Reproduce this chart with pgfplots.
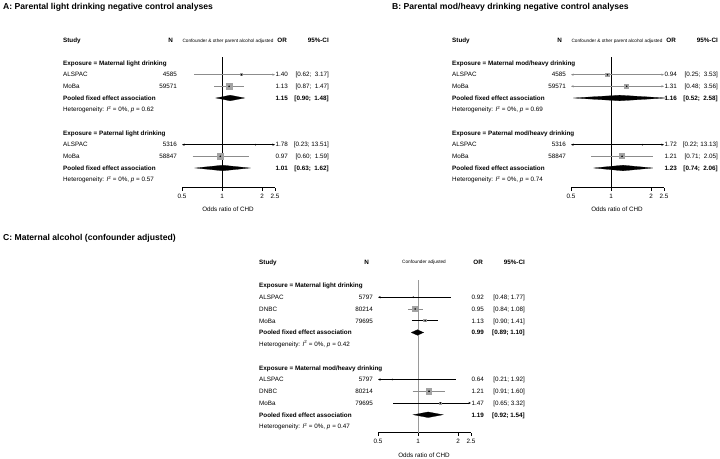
\documentclass[border=0pt]{standalone}
\usepackage{pgfplots}
\pgfplotsset{compat=1.18}
\usepackage{fontspec}
\setmainfont{Liberation Sans}
\usetikzlibrary{arrows.meta}
\definecolor{sqgray}{HTML}{A3A3A3}
\definecolor{cigray}{HTML}{8C8C8C}
\definecolor{refgray}{HTML}{9A9A9A}
\newcommand\fs{\fontsize{6.3bp}{7bp}\selectfont}
\newcommand\fst{\fontsize{4.7bp}{5bp}\selectfont}
\newcommand\ftit{\fontsize{8.6bp}{10bp}\selectfont\bfseries}
\newcommand\het[1]{Heterogeneity: \textit{I}\textsuperscript{2} = 0\%, \textit{p} = #1}
\tikzset{
  tx/.style={inner sep=0pt, font=\fs, text height=4.5bp, text depth=0pt},
  L/.style={tx, anchor=west},
  R/.style={tx, anchor=east},
  M/.style={tx, anchor=center},
  B/.style={font=\fs\bfseries},
  rarr/.style={-{Stealth[length=2.6bp,width=2.2bp]}},
  larr/.style={{Stealth[length=2.6bp,width=2.2bp]}-},
  barr/.style={{Stealth[length=2.6bp,width=2.2bp]}-{Stealth[length=2.6bp,width=2.2bp]}},
  cil/.style={line width=0.6bp, cigray},
  cib/.style={line width=0.6bp, black},
  cdia/.style={fill=black, draw=black, line width=0.2bp},
}
\pgfplotsset{
  fplot/.style={
    scale only axis, width=93bp,
    axis x line*=bottom, axis y line=none,
    xtick={0.5,1,2,2.5}, xticklabels={0.5,1,2,2.5}, minor xtick={},
    tick align=outside, major tick length=3bp,
    x axis line style={line width=0.5bp},
    xtick style={line width=0.5bp, black},
    xticklabel style={font=\fs, inner sep=0pt, text height=4.5bp, text depth=0pt, anchor=north, yshift=-3bp},
    clip=false,
  },
  csq/.style={only marks, mark=square*, mark options={fill=sqgray, draw=sqgray, line width=0pt}},
  cdot/.style={only marks, mark=*, mark size=0.55bp, black},
}
\begin{document}
\begin{tikzpicture}
\useasboundingbox (0,0) rectangle (720bp,-459bp);

% ---------------- Panel A ----------------
\begin{axis}[xmode=log, xmin=0.5, xmax=2.5, fplot, at={(182bp,-187.5bp)}, anchor=south west, height=130.2bp, ymin=-187.5, ymax=-57.3]
\addplot[black, line width=0.6bp] coordinates {(1,-57.3) (1,-187.5)};
\addplot[cil, rarr] coordinates {(0.62,-74.7) (2.5,-74.7)};
\addplot[csq, mark size=0.9bp] coordinates {(1.40,-74.7)};
\addplot[cdot] coordinates {(1.40,-74.7)};
\addplot[cil] coordinates {(0.87,-86.3) (1.47,-86.3)};
\addplot[csq, mark size=3bp] coordinates {(1.13,-86.3)};
\addplot[cdot] coordinates {(1.13,-86.3)};
\addplot[cdia] coordinates {(0.90,-98) (1.15,-95.2) (1.48,-98) (1.15,-100.8)} -- cycle;
\addplot[cib, barr] coordinates {(0.5,-144.7) (2.5,-144.7)};
\addplot[cdot] coordinates {(1.78,-144.7)};
\addplot[cil] coordinates {(0.60,-156.3) (1.59,-156.3)};
\addplot[csq, mark size=3bp] coordinates {(0.97,-156.3)};
\addplot[cdot] coordinates {(0.97,-156.3)};
\addplot[cdia] coordinates {(0.63,-168) (1.01,-165.2) (1.62,-168) (1.01,-170.8)} -- cycle;
\end{axis}

% ---------------- Panel B ----------------
\begin{axis}[xmode=log, xmin=0.5, xmax=2.5, fplot, at={(571bp,-187.5bp)}, anchor=south west, height=130.2bp, ymin=-187.5, ymax=-57.3]
\addplot[black, line width=0.6bp] coordinates {(1,-57.3) (1,-187.5)};
\addplot[cil, barr] coordinates {(0.5,-74.7) (2.5,-74.7)};
\addplot[csq, mark size=1.7bp] coordinates {(0.94,-74.7)};
\addplot[cdot] coordinates {(0.94,-74.7)};
\addplot[cil, barr] coordinates {(0.5,-86.3) (2.5,-86.3)};
\addplot[csq, mark size=2.2bp] coordinates {(1.31,-86.3)};
\addplot[cdot] coordinates {(1.31,-86.3)};
\addplot[cdia] coordinates {(0.52,-98) (1.16,-95.2) (2.58,-98) (1.16,-100.8)} -- cycle;
\addplot[cib, barr] coordinates {(0.5,-144.7) (2.5,-144.7)};
\addplot[cdot] coordinates {(1.72,-144.7)};
\addplot[cil] coordinates {(0.71,-156.3) (2.05,-156.3)};
\addplot[csq, mark size=2.4bp] coordinates {(1.21,-156.3)};
\addplot[cdot] coordinates {(1.21,-156.3)};
\addplot[cdia] coordinates {(0.74,-168) (1.23,-165.2) (2.06,-168) (1.23,-170.8)} -- cycle;
\end{axis}

% ---------------- Panel C ----------------
\begin{axis}[xmode=log, xmin=0.5, xmax=2.5, fplot, at={(378bp,-432.5bp)}, anchor=south west, height=152.5bp, ymin=-432.5, ymax=-280]
\addplot[refgray, line width=0.7bp] coordinates {(1,-280) (1,-432.5)};
\addplot[cib, larr] coordinates {(0.5,-297.25) (1.77,-297.25)};
\addplot[cdot] coordinates {(0.92,-297.25)};
\addplot[cil] coordinates {(0.84,-309) (1.08,-309)};
\addplot[csq, mark size=2.6bp] coordinates {(0.95,-309)};
\addplot[cdot] coordinates {(0.95,-309)};
\addplot[cib] coordinates {(0.90,-320.75) (1.41,-320.75)};
\addplot[csq, mark size=1.2bp] coordinates {(1.13,-320.75)};
\addplot[cdot] coordinates {(1.13,-320.75)};
\addplot[cdia] coordinates {(0.89,-332.5) (0.99,-329.7) (1.10,-332.5) (0.99,-335.3)} -- cycle;
\addplot[cib, larr] coordinates {(0.5,-379.5) (1.92,-379.5)};
\addplot[cdot] coordinates {(0.64,-379.5)};
\addplot[cil] coordinates {(0.91,-391.25) (1.60,-391.25)};
\addplot[csq, mark size=2.8bp] coordinates {(1.21,-391.25)};
\addplot[cdot] coordinates {(1.21,-391.25)};
\addplot[cib, rarr] coordinates {(0.65,-403) (2.5,-403)};
\addplot[csq, mark size=1bp] coordinates {(1.47,-403)};
\addplot[cdot] coordinates {(1.47,-403)};
\addplot[cdia] coordinates {(0.92,-414.75) (1.19,-411.95) (1.54,-414.75) (1.19,-417.55)} -- cycle;
\end{axis}

% ---------------- Text A ----------------
\begin{scope}[x=1bp,y=-1bp]
\node[L, font=\ftit, text height=6.2bp] at (3,6) {A: Parental light drinking negative control analyses};
\node[L,B] at (63,40.5) {Study};
\node[R,B] at (173,40.5) {N};
\node[M,font=\fst,text height=3.4bp] at (228,40.5) {Confounder \& other parent alcohol adjusted};
\node[R,B] at (287,40.5) {OR};
\node[R,B] at (329,40.5) {95\%-CI};
\node[L,B] at (63,63) {Exposure = Maternal light drinking};
\node[L] at (63,74.7) {ALSPAC}; \node[R] at (177,74.7) {4585}; \node[R] at (288,74.7) {1.40}; \node[R] at (329,74.7) {[0.62;\ \ 3.17]};
\node[L] at (63,86.3) {MoBa}; \node[R] at (177,86.3) {59571}; \node[R] at (288,86.3) {1.13}; \node[R] at (329,86.3) {[0.87;\ \ 1.47]};
\node[L,B] at (63,98) {Pooled fixed effect association}; \node[R,B] at (288,98) {1.15}; \node[R,B] at (329,98) {[0.90;\ \ 1.48]};
\node[L] at (63,109.7) {\het{0.62}};
\node[L,B] at (63,133) {Exposure = Paternal light drinking};
\node[L] at (63,144.7) {ALSPAC}; \node[R] at (177,144.7) {5316}; \node[R] at (288,144.7) {1.78}; \node[R] at (329,144.7) {[0.23; 13.51]};
\node[L] at (63,156.3) {MoBa}; \node[R] at (177,156.3) {58847}; \node[R] at (288,156.3) {0.97}; \node[R] at (329,156.3) {[0.60;\ \ 1.59]};
\node[L,B] at (63,168) {Pooled fixed effect association}; \node[R,B] at (288,168) {1.01}; \node[R,B] at (329,168) {[0.63;\ \ 1.62]};
\node[L] at (63,179.7) {\het{0.57}};
\node[M] at (228,209.5) {Odds ratio of CHD};
\end{scope}

% ---------------- Text B ----------------
\begin{scope}[x=1bp,y=-1bp,xshift=389bp]
\node[L, font=\ftit, text height=6.2bp] at (3,6) {B: Parental mod/heavy drinking negative control analyses};
\node[L,B] at (63,40.5) {Study};
\node[R,B] at (173,40.5) {N};
\node[M,font=\fst,text height=3.4bp] at (228,40.5) {Confounder \& other parent alcohol adjusted};
\node[R,B] at (287,40.5) {OR};
\node[R,B] at (329,40.5) {95\%-CI};
\node[L,B] at (63,63) {Exposure = Maternal mod/heavy drinking};
\node[L] at (63,74.7) {ALSPAC}; \node[R] at (177,74.7) {4585}; \node[R] at (288,74.7) {0.94}; \node[R] at (329,74.7) {[0.25;\ \ 3.53]};
\node[L] at (63,86.3) {MoBa}; \node[R] at (177,86.3) {59571}; \node[R] at (288,86.3) {1.31}; \node[R] at (329,86.3) {[0.48;\ \ 3.56]};
\node[L,B] at (63,98) {Pooled fixed effect association}; \node[R,B] at (288,98) {1.16}; \node[R,B] at (329,98) {[0.52;\ \ 2.58]};
\node[L] at (63,109.7) {\het{0.69}};
\node[L,B] at (63,133) {Exposure = Paternal mod/heavy drinking};
\node[L] at (63,144.7) {ALSPAC}; \node[R] at (177,144.7) {5316}; \node[R] at (288,144.7) {1.72}; \node[R] at (329,144.7) {[0.22; 13.13]};
\node[L] at (63,156.3) {MoBa}; \node[R] at (177,156.3) {58847}; \node[R] at (288,156.3) {1.21}; \node[R] at (329,156.3) {[0.71;\ \ 2.05]};
\node[L,B] at (63,168) {Pooled fixed effect association}; \node[R,B] at (288,168) {1.23}; \node[R,B] at (329,168) {[0.74;\ \ 2.06]};
\node[L] at (63,179.7) {\het{0.74}};
\node[M] at (228,209.5) {Odds ratio of CHD};
\end{scope}

% ---------------- Text C ----------------
\begin{scope}[x=1bp,y=-1bp]
\node[L, font=\ftit, text height=6.2bp] at (3,237) {C: Maternal alcohol (confounder adjusted)};
\end{scope}
\begin{scope}[x=1bp,y=-1bp,xshift=196bp]
\node[L,B] at (63,262) {Study};
\node[R,B] at (173,262) {N};
\node[M,font=\fst,text height=3.4bp] at (228,262) {Confounder adjusted};
\node[R,B] at (287,262) {OR};
\node[R,B] at (329,262) {95\%-CI};
\node[L,B] at (63,285.5) {Exposure = Maternal light drinking};
\node[L] at (63,297.25) {ALSPAC}; \node[R] at (177,297.25) {5797}; \node[R] at (288,297.25) {0.92}; \node[R] at (329,297.25) {[0.48; 1.77]};
\node[L] at (63,309) {DNBC}; \node[R] at (177,309) {80214}; \node[R] at (288,309) {0.95}; \node[R] at (329,309) {[0.84; 1.08]};
\node[L] at (63,320.75) {MoBa}; \node[R] at (177,320.75) {79695}; \node[R] at (288,320.75) {1.13}; \node[R] at (329,320.75) {[0.90; 1.41]};
\node[L,B] at (63,332.5) {Pooled fixed effect association}; \node[R,B] at (288,332.5) {0.99}; \node[R,B] at (329,332.5) {[0.89; 1.10]};
\node[L] at (63,344.25) {\het{0.42}};
\node[L,B] at (63,367.75) {Exposure = Maternal mod/heavy drinking};
\node[L] at (63,379.5) {ALSPAC}; \node[R] at (177,379.5) {5797}; \node[R] at (288,379.5) {0.64}; \node[R] at (329,379.5) {[0.21; 1.92]};
\node[L] at (63,391.25) {DNBC}; \node[R] at (177,391.25) {80214}; \node[R] at (288,391.25) {1.21}; \node[R] at (329,391.25) {[0.91; 1.60]};
\node[L] at (63,403) {MoBa}; \node[R] at (177,403) {79695}; \node[R] at (288,403) {1.47}; \node[R] at (329,403) {[0.65; 3.32]};
\node[L,B] at (63,414.75) {Pooled fixed effect association}; \node[R,B] at (288,414.75) {1.19}; \node[R,B] at (329,414.75) {[0.92; 1.54]};
\node[L] at (63,426.5) {\het{0.47}};
\node[M] at (228,455.5) {Odds ratio of CHD};
\end{scope}
\end{tikzpicture}
\end{document}
